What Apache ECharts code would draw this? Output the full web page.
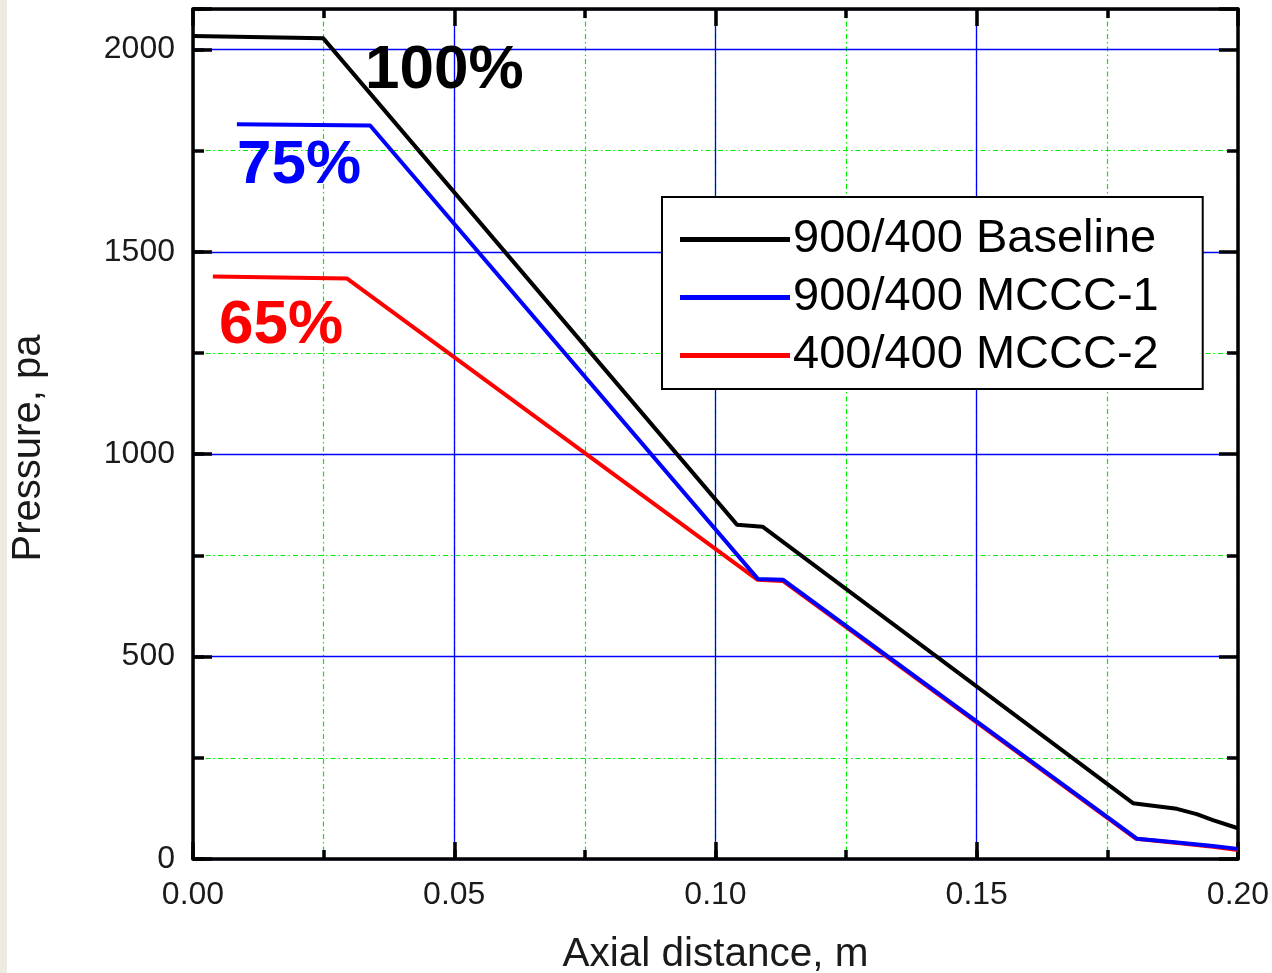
<!DOCTYPE html>
<html>
<head>
<meta charset="utf-8">
<script src="https://cdn.jsdelivr.net/npm/echarts@6/dist/echarts.min.js"></script>
<style>
html,body{margin:0;padding:0;background:#fff;}
#chart{width:1272px;height:973px;}
</style>
</head>
<body>
<div id="chart"></div>
<script>
// ---- data ----
const seriesNames = ['900/400 Baseline', '900/400 MCCC-1', '400/400 MCCC-2'];
const baselineX = [0.0, 0.0249, 0.1041, 0.1090, 0.1799, 0.1883, 0.1921, 0.1952, 0.2];
const baselineY = [2033, 2028, 826, 821, 138, 124, 111, 96, 76];
const mccc1X = [0.0084, 0.0339, 0.1081, 0.1129, 0.1807, 0.1889, 0.1952, 0.2];
const mccc1Y = [1815, 1812, 692, 690, 50, 40, 32, 25];
const mccc2X = [0.0038, 0.0295, 0.1080, 0.1129, 0.1805, 0.1889, 0.1952, 0.2];
const mccc2Y = [1439, 1434, 690, 687, 50, 39, 30, 22];
const xTicks = [0, 0.05, 0.10, 0.15, 0.20];
const yTicks = [0, 500, 1000, 1500, 2000];
const annotations = ['100%', '75%', '65%'];

const FONT = "'Liberation Sans', Arial, Helvetica, sans-serif";
const zip = (xs, ys) => xs.map((x, i) => [x, ys[i]]);

const chart = echarts.init(document.getElementById('chart'));

const green = {color: '#00ee00', width: 1.2, type: [5, 3, 1.5, 3]};
const blue = {color: '#0000ff', width: 1.3};
const frame = {show: true, onZero: false, lineStyle: {color: '#000', width: 3.5}};
const noLine = {show: false, onZero: false};
const tick = len => ({show: true, inside: true, length: len, lineStyle: {color: '#000', width: 3.5}});

function xAx(grid, pos, interval, opts) {
  return Object.assign({
    type: 'value', gridIndex: grid, position: pos, min: 0, max: 0.2, interval: interval,
    axisLine: noLine, axisLabel: {show: false},
    splitLine: {show: false}
  }, opts);
}
function yAx(grid, pos, interval, opts) {
  return Object.assign({
    type: 'value', gridIndex: grid, position: pos, min: 0, max: 2100, interval: interval,
    axisLine: noLine, axisLabel: {show: false},
    splitLine: {show: false}
  }, opts);
}

const gridBox = {left: 193, right: 34, top: 9, bottom: 114, containLabel: false, outerBoundsMode: 'none'};

const option = {
  animation: false,
  backgroundColor: '#fff',
  grid: [Object.assign({}, gridBox), Object.assign({}, gridBox)],
  xAxis: [
    // grid 0: minor grid lines and minor ticks
    xAx(0, 'bottom', 0.025, {z: 0, splitLine: {show: true, lineStyle: green}, axisTick: tick(9)}),
    xAx(0, 'top', 0.025, {z: 1, axisTick: tick(9)}),
    // grid 1: major grid lines, labels, frame
    xAx(1, 'bottom', 0.05, {z: 1, axisLine: frame,
      splitLine: {show: true, lineStyle: blue},
      axisTick: tick(17),
      axisLabel: {show: true, margin: 20, fontSize: 32, color: '#1a1a1a', fontFamily: FONT,
        formatter: v => xTicks.some(t => Math.abs(t - v) < 1e-9) ? v.toFixed(2) : ''},
      name: 'Axial distance, m', nameLocation: 'middle', nameGap: 75,
      nameTextStyle: {fontSize: 40.5, color: '#1a1a1a', fontFamily: FONT}}),
    xAx(1, 'top', 0.05, {z: 1, axisLine: frame, axisTick: tick(17)})
  ],
  yAxis: [
    yAx(0, 'left', 250, {z: 0, splitLine: {show: true, lineStyle: green}, axisTick: tick(11)}),
    yAx(0, 'right', 250, {z: 1, axisTick: tick(11)}),
    yAx(1, 'left', 500, {z: 1, axisLine: frame,
      splitLine: {show: true, lineStyle: blue},
      axisTick: tick(19),
      axisLabel: {show: true, margin: 18, fontSize: 32, color: '#1a1a1a', fontFamily: FONT,
        formatter: v => yTicks.indexOf(v) >= 0 ? String(v) : ''}}),
    yAx(1, 'right', 500, {z: 1, axisLine: frame, axisTick: tick(19)})
  ],
  legend: {
    orient: 'vertical', left: 662, top: 197,
    data: seriesNames,
    backgroundColor: '#fff', borderColor: '#000', borderWidth: 2,
    padding: [19, 44, 10, 18],
    itemWidth: 110, itemHeight: 5, itemGap: 11, icon: 'rect',
    textStyle: {fontSize: 47, color: '#000', fontFamily: FONT, padding: [0, 0, 0, -2]},
    z: 10
  },
  series: [
    {name: seriesNames[0], type: 'line', data: zip(baselineX, baselineY), xAxisIndex: 2, yAxisIndex: 2,
      showSymbol: false, symbol: 'none', z: 5, color: '#000', lineStyle: {color: '#000', width: 4}},
    {name: seriesNames[1], type: 'line', data: zip(mccc1X, mccc1Y), xAxisIndex: 2, yAxisIndex: 2,
      showSymbol: false, symbol: 'none', z: 4, color: '#0000ff', lineStyle: {color: '#0000ff', width: 4}},
    {name: seriesNames[2], type: 'line', data: zip(mccc2X, mccc2Y), xAxisIndex: 2, yAxisIndex: 2,
      showSymbol: false, symbol: 'none', z: 3, color: '#ff0000', lineStyle: {color: '#ff0000', width: 4}}
  ],
  graphic: [
    {type: 'rect', left: 0, top: 0, z: 0, shape: {width: 7, height: 973}, style: {fill: '#edeadf'}},
    {type: 'text', x: 365, y: 71, z: 20, style: {text: annotations[0], fill: '#000', font: 'bold 62px ' + FONT,
      textAlign: 'left', textVerticalAlign: 'middle', align: 'left', verticalAlign: 'middle'}},
    {type: 'text', x: 237, y: 166, z: 20, style: {text: annotations[1], fill: '#0000ff', font: 'bold 62px ' + FONT,
      textAlign: 'left', textVerticalAlign: 'middle', align: 'left', verticalAlign: 'middle'}},
    {type: 'text', x: 219, y: 326, z: 20, style: {text: annotations[2], fill: '#ff0000', font: 'bold 62px ' + FONT,
      textAlign: 'left', textVerticalAlign: 'middle', align: 'left', verticalAlign: 'middle'}},
    {type: 'text', x: 29, y: 448, rotation: Math.PI / 2, z: 20, style: {text: 'Pressure, pa', fill: '#1a1a1a',
      font: '40px ' + FONT, textAlign: 'center', textVerticalAlign: 'middle', align: 'center', verticalAlign: 'middle'}}
  ]
};
chart.setOption(option);
</script>
</body>
</html>
